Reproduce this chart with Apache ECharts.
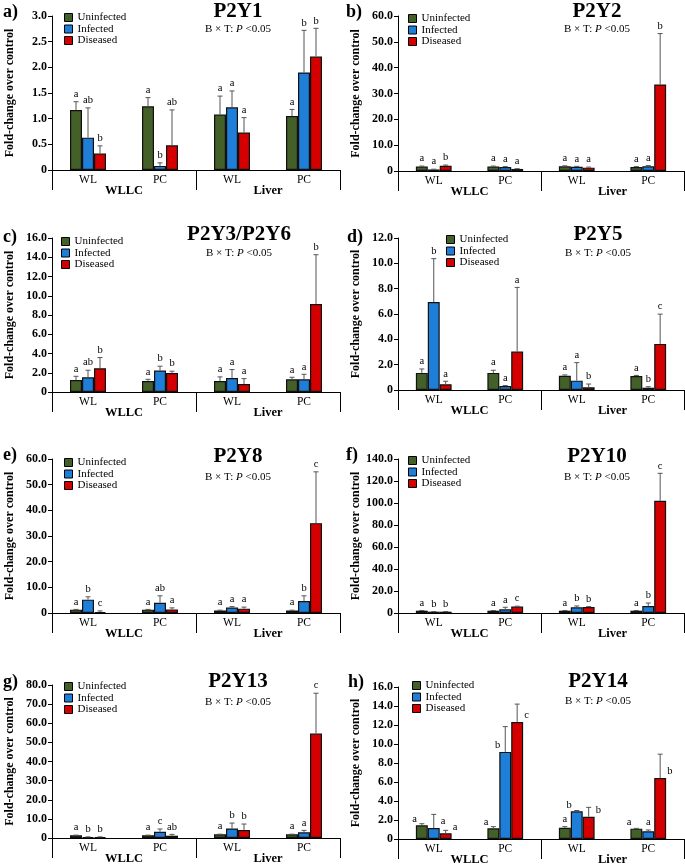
<!DOCTYPE html>
<html><head><meta charset="utf-8">
<script src="https://cdn.jsdelivr.net/npm/echarts@6/dist/echarts.min.js"></script>
<style>html,body{margin:0;padding:0;background:#fff}#c{width:685px;height:868px}</style>
</head><body><div id="c"></div>
<script>
// ---------- data ----------
const categories = ['WL', 'PC', 'WL', 'PC'];
const tissues = ['WLLC', 'Liver'];
const groupNames = ['Uninfected', 'Infected', 'Diseased'];
const groupColors = ['#436029', '#1f7fd8', '#d40000'];

// each array: [Uninfected, Infected, Diseased] x [WLLC-WL, WLLC-PC, Liver-WL, Liver-PC]
const p2y1Mean = [[1.17, 1.24, 1.08, 1.05], [0.63, 0.08, 1.22, 1.90], [0.32, 0.48, 0.73, 2.21]];
const p2y1Top = [[1.33, 1.41, 1.44, 1.18], [1.21, 0.14, 1.54, 2.72], [0.47, 1.17, 1.02, 2.76]];
const p2y1Letters = [['a', 'a', 'a', 'a'], ['ab', 'b', 'a', 'b'], ['b', 'ab', 'a', 'b']];

const p2y2Mean = [[1.7, 1.7, 1.8, 1.5], [0.6, 1.5, 1.6, 1.8], [2.0, 0.8, 1.3, 33.5]];
const p2y2Top = [[1.9, 1.9, 2.0, 1.7], [0.7, 1.7, 1.8, 2.1], [2.3, 0.9, 1.5, 53.2]];
const p2y2Letters = [['a', 'a', 'a', 'a'], ['a', 'a', 'a', 'a'], ['b', 'a', 'a', 'b']];

const p2y3Mean = [[1.25, 1.15, 1.15, 1.32], [1.53, 2.23, 1.46, 1.32], [2.47, 1.98, 0.83, 9.15]];
const p2y3Top = [[1.63, 1.32, 1.57, 1.53], [2.26, 2.68, 2.33, 1.84], [3.58, 2.16, 1.39, 14.26]];
const p2y3Letters = [['a', 'a', 'a', 'a'], ['ab', 'b', 'a', 'a'], ['b', 'b', 'a', 'b']];

const p2y5Mean = [[1.35, 1.35, 1.13, 1.11], [6.94, 0.32, 0.74, 0.18], [0.45, 3.03, 0.21, 3.64]];
const p2y5Top = [[1.66, 1.56, 1.19, 1.15], [10.37, 0.35, 2.16, 0.26], [0.69, 8.1, 0.47, 5.99]];
const p2y5Letters = [['a', 'a', 'a', 'a'], ['b', 'a', 'a', 'b'], ['a', 'a', 'b', 'c']];

const p2y8Mean = [[1.3, 1.3, 1.0, 1.0], [5.2, 4.0, 2.1, 4.7], [0.4, 1.4, 1.7, 35.0]];
const p2y8Top = [[1.4, 1.4, 1.1, 1.1], [6.3, 6.7, 2.5, 6.7], [0.8, 2.0, 2.3, 55.0]];
const p2y8Letters = [['a', 'a', 'a', 'a'], ['b', 'ab', 'a', 'b'], ['c', 'a', 'a', 'c']];

const p2y10Mean = [[2.1, 2.1, 2.1, 2.1], [1.2, 3.3, 5.2, 6.4], [1.2, 5.8, 5.5, 102]];
const p2y10Top = [[2.3, 2.3, 2.3, 2.3], [1.3, 5.2, 6.4, 9.1], [1.3, 6.2, 5.8, 127]];
const p2y10Letters = [['a', 'a', 'a', 'a'], ['b', 'a', 'b', 'b'], ['b', 'c', 'b', 'c']];

const p2y13Mean = [[1.4, 1.4, 1.9, 1.9], [0.5, 3.3, 5.0, 3.0], [0.5, 1.2, 4.2, 54.6]];
const p2y13Top = [[1.5, 1.5, 2.0, 2.0], [0.6, 4.7, 7.8, 4.0], [0.6, 1.9, 7.3, 75.7]];
const p2y13Letters = [['a', 'a', 'a', 'a'], ['b', 'c', 'b', 'a'], ['b', 'ab', 'b', 'c']];

const p2y14Mean = [[1.44, 1.12, 1.19, 1.09], [1.16, 9.17, 2.91, 0.81], [0.60, 12.32, 2.35, 6.41]];
const p2y14Top = [[1.61, 1.30, 1.30, 1.12], [2.59, 11.83, 3.0, 0.95], [0.91, 14.2, 3.33, 8.93]];
const p2y14Letters = [['a', 'a', 'a', 'a'], ['a', 'b', 'b', 'a'], ['a', 'c', 'b', 'b']];
const p2y14LetterPos = [['left', 'left', 'top', 'left'], ['right', 'left', 'left', 'top'], ['right', 'right', 'right', 'right']];

const panels = [
  { tag: 'a)', title: 'P2Y1', mean: p2y1Mean, top: p2y1Top, letters: p2y1Letters, max: 3, interval: 0.5 },
  { tag: 'b)', title: 'P2Y2', mean: p2y2Mean, top: p2y2Top, letters: p2y2Letters, max: 60, interval: 10 },
  { tag: 'c)', title: 'P2Y3/P2Y6', mean: p2y3Mean, top: p2y3Top, letters: p2y3Letters, max: 16, interval: 2 },
  { tag: 'd)', title: 'P2Y5', mean: p2y5Mean, top: p2y5Top, letters: p2y5Letters, max: 12, interval: 2 },
  { tag: 'e)', title: 'P2Y8', mean: p2y8Mean, top: p2y8Top, letters: p2y8Letters, max: 60, interval: 10 },
  { tag: 'f)', title: 'P2Y10', mean: p2y10Mean, top: p2y10Top, letters: p2y10Letters, max: 140, interval: 20 },
  { tag: 'g)', title: 'P2Y13', mean: p2y13Mean, top: p2y13Top, letters: p2y13Letters, max: 80, interval: 10 },
  { tag: 'h)', title: 'P2Y14', mean: p2y14Mean, top: p2y14Top, letters: p2y14Letters, pos: p2y14LetterPos, max: 16, interval: 2 }
];

// ---------- layout ----------
const layout = [
  { left: 52, top: 16, width: 288, height: 154, tx: 238, ty: 12, sy: 29, gx: 3, gy: 12, lx: 64, ly: 12 },
  { left: 398, top: 16, width: 286, height: 155, tx: 597, ty: 12, sy: 29, gx: 346, gy: 12, lx: 408, ly: 13 },
  { left: 52, top: 238, width: 288, height: 154, tx: 239, ty: 235, sy: 253, gx: 3, gy: 237, lx: 61, ly: 236 },
  { left: 398, top: 238, width: 286, height: 152, tx: 598, ty: 235, sy: 253, gx: 347, gy: 237, lx: 446, ly: 234 },
  { left: 52, top: 459, width: 288, height: 154, tx: 238, ty: 457, sy: 477, gx: 3, gy: 455, lx: 64, ly: 457 },
  { left: 398, top: 459, width: 286, height: 154, tx: 597, ty: 457, sy: 477, gx: 346, gy: 455, lx: 408, ly: 455 },
  { left: 52, top: 685, width: 288, height: 153, tx: 238, ty: 682, sy: 702, gx: 3, gy: 682, lx: 64, ly: 681 },
  { left: 398, top: 687, width: 286, height: 152, tx: 598, ty: 682, sy: 701, gx: 348, gy: 682, lx: 412, ly: 680 }
];

const FF = '"Liberation Serif", "Times New Roman", serif';

const grid = [], xAxis = [], yAxis = [], series = [], legend = [], graphic = [];

function makeRender(p) {
  return function (params, api) {
    const i = params.dataIndex;
    const s = Math.floor(i / 4), c = i % 4;
    const mean = api.value(1), top = api.value(2);
    const band = api.size([1, 0])[0];
    const bw = band / 6;
    const cx = api.coord([c, 0])[0] + (s - 1) * bw;
    const yMean = api.coord([c, mean])[1];
    const yTop = api.coord([c, top])[1];
    const children = [];
    const ls = { stroke: '#555', lineWidth: 1 };
    if (top > mean) {
      children.push({ type: 'line', shape: { x1: cx, y1: yMean, x2: cx, y2: yTop }, style: ls });
      children.push({ type: 'line', shape: { x1: cx - 2.5, y1: yTop, x2: cx + 2.5, y2: yTop }, style: ls });
    }
    const pos = p.pos ? p.pos[s][c] : 'top';
    const letter = p.letters[s][c];
    let tx, ty, al;
    if (pos === 'left') { tx = cx - bw / 2 + 1; ty = yMean - 1; al = 'right'; }
    else if (pos === 'right') { tx = cx + bw / 2 + 1; ty = yMean - 1; al = 'left'; }
    else { tx = cx; ty = Math.min(yTop, yMean) - 2; al = 'center'; }
    children.push({
      type: 'text', x: tx, y: ty,
      style: { text: letter, fill: '#000', font: '10.5px ' + FF, align: al, textAlign: al, verticalAlign: 'bottom', textVerticalAlign: 'bottom' }
    });
    return { type: 'group', children };
  };
}

panels.forEach((p, k) => {
  const L = layout[k];
  grid.push({ left: L.left, top: L.top, width: L.width, height: L.height, containLabel: false });
  xAxis.push({
    type: 'category', gridIndex: k, data: categories, position: 'bottom',
    axisLine: { show: false }, axisTick: { show: false }, splitLine: { show: false },
    axisLabel: { interval: 0, fontFamily: FF, fontSize: 11.5, color: '#000', margin: 4 }
  });
  xAxis.push({
    type: 'category', gridIndex: k, data: tissues, position: 'bottom',
    axisLine: { show: true, lineStyle: { color: '#000', width: 1 } },
    axisTick: { show: true, interval: 0, alignWithLabel: false, length: 20, lineStyle: { color: '#000', width: 1 } },
    splitLine: { show: false },
    axisLabel: { interval: 0, fontFamily: FF, fontWeight: 'bold', fontSize: 12.5, color: '#000', margin: 14 }
  });
  yAxis.push({
    type: 'value', gridIndex: k, min: 0, max: p.max, interval: p.interval,
    axisLine: { show: true, lineStyle: { color: '#000', width: 1 } },
    axisTick: { show: true, length: 4, lineStyle: { color: '#000' } },
    splitLine: { show: false },
    axisLabel: {
      formatter: v => (v === 0 ? '0' : v.toFixed(1)),
      fontFamily: FF, fontWeight: 'bold', fontSize: 12, color: '#000', margin: 5
    },
    name: 'Fold-change over control', nameLocation: 'middle', nameGap: 36, nameRotate: 90,
    nameTextStyle: { fontFamily: FF, fontWeight: 'bold', fontSize: 12, color: '#000' }
  });
  groupNames.forEach((g, s) => {
    series.push({
      type: 'bar', name: g, xAxisIndex: 2 * k, yAxisIndex: k,
      data: p.mean[s], barWidth: '16.6667%', barGap: '0%',
      itemStyle: { color: groupColors[s], borderColor: '#111', borderWidth: 1.2 },
      silent: true
    });
  });
  const cdata = [];
  for (let s = 0; s < 3; s++) for (let c = 0; c < 4; c++) cdata.push([c, p.mean[s][c], p.top[s][c]]);
  series.push({
    type: 'custom', xAxisIndex: 2 * k, yAxisIndex: k, data: cdata, clip: false, z: 5, silent: true,
    renderItem: makeRender(p)
  });
  legend.push({
    orient: 'vertical', left: L.lx, top: L.ly, padding: 0, itemGap: 0.5, itemWidth: 8, itemHeight: 8,
    icon: 'rect', selectedMode: false, data: groupNames,
    itemStyle: { borderColor: '#000', borderWidth: 1 },
    textStyle: { fontFamily: FF, fontSize: 11, color: '#000', lineHeight: 11 }
  });
  graphic.push({
    type: 'text', x: L.tx, y: L.ty,
    style: { text: p.title, font: 'bold 21px ' + FF, fill: '#000', align: 'center', textAlign: 'center', verticalAlign: 'middle', textVerticalAlign: 'middle' }
  });
  graphic.push({
    type: 'text', x: L.tx, y: L.sy,
    style: {
      text: 'B × T: {i|P} <0.05', font: '11px ' + FF, fill: '#000', align: 'center', textAlign: 'center',
      verticalAlign: 'middle', textVerticalAlign: 'middle',
      rich: { i: { fontStyle: 'italic', fontFamily: FF, fontSize: 11, fill: '#000' } }
    }
  });
  graphic.push({
    type: 'text', x: L.gx, y: L.gy,
    style: { text: p.tag, font: 'bold 18px ' + FF, fill: '#000', align: 'left', textAlign: 'left', verticalAlign: 'middle', textVerticalAlign: 'middle' }
  });
});

const chart = echarts.init(document.getElementById('c'), null, { renderer: 'canvas' });
chart.setOption({ animation: false, backgroundColor: '#fff', grid, xAxis, yAxis, series, legend, graphic });
</script>
</body></html>
